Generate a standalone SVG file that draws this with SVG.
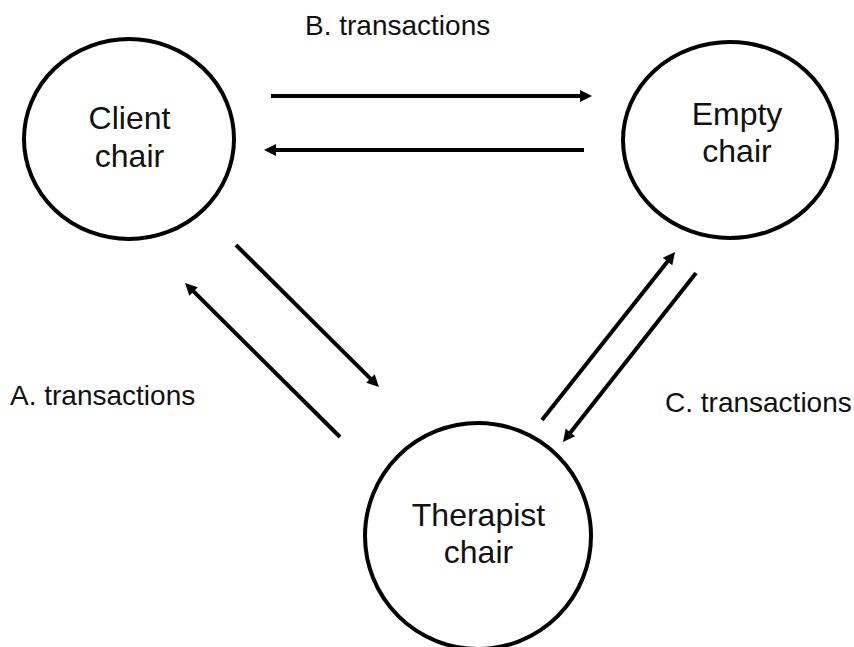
<svg xmlns="http://www.w3.org/2000/svg" width="854" height="647" viewBox="0 0 854 647">
<style>
.node{fill:#fff;stroke:#000;stroke-width:4}
.nt{font-family:"Liberation Sans",Arial,sans-serif;font-size:32px;fill:#111;text-anchor:middle}
.lbl{font-family:"Liberation Sans",Arial,sans-serif;font-size:28px;fill:#111}
.conn{stroke:#000;stroke-width:4;fill:none;marker-end:url(#ah)}
</style>
<defs>
<marker id="ah" markerUnits="userSpaceOnUse" markerWidth="14" markerHeight="14" viewBox="0 0 14 14" refX="7" refY="7" orient="auto">
<path d="M1,1 L13,7 L1,13 z" fill="#000"/>
</marker>
</defs>
<rect width="854" height="647" fill="#fff"/>
<g id="client">
<ellipse class="node" cx="129" cy="139" rx="105" ry="100"/>
<text class="nt" x="129.5" y="129">Client</text>
<text class="nt" x="129.5" y="167">chair</text>
</g>
<g id="empty">
<ellipse class="node" cx="730" cy="140" rx="107" ry="98"/>
<text class="nt" x="737" y="125">Empty</text>
<text class="nt" x="737" y="162">chair</text>
</g>
<g id="therapist">
<ellipse class="node" cx="478" cy="536" rx="113" ry="113"/>
<text class="nt" x="478.5" y="526">Therapist</text>
<text class="nt" x="478.5" y="563">chair</text>
</g>
<g id="connectors">
<line class="conn" x1="271" y1="96" x2="586" y2="96"/>
<line class="conn" x1="584" y1="150" x2="270" y2="150"/>
<line class="conn" x1="236" y1="245" x2="374.7" y2="382.8"/>
<line class="conn" x1="340" y1="437" x2="189.3" y2="287.2"/>
<line class="conn" x1="542" y1="420" x2="671.3" y2="256.7"/>
<line class="conn" x1="696" y1="273" x2="566.7" y2="437.3"/>
</g>
<g id="labels">
<text class="lbl" x="305" y="35">B. transactions</text>
<text class="lbl" x="10" y="405">A. transactions</text>
<text class="lbl" x="665" y="412">C. transactions</text>
</g>
</svg>
